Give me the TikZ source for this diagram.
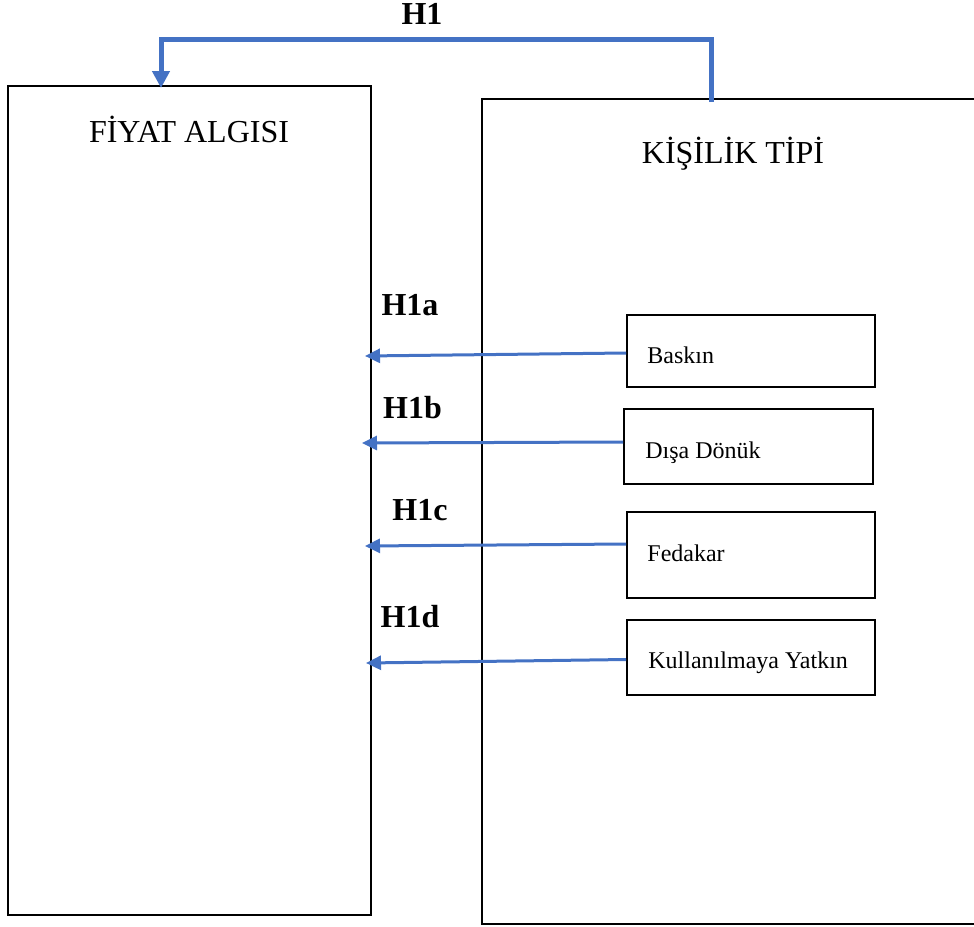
\documentclass[tikz,border=0pt]{standalone}
\usepackage{fontspec}
\setmainfont{Liberation Serif}
\usetikzlibrary{arrows.meta}

\definecolor{wordblue}{HTML}{4472C4}

\begin{document}
\begin{tikzpicture}[x=0.5pt, y=-0.5pt,
    mainbox/.style={draw, line width=1pt, inner sep=0pt},
    subbox/.style={draw, line width=1pt, inner sep=0pt},
    boxtitle/.style={anchor=base, inner sep=0pt, font=\fontsize{16}{19}\selectfont},
    subtext/.style={anchor=base west, inner sep=0pt, font=\fontsize{12}{14}\selectfont},
    hyplabel/.style={anchor=base, inner sep=0pt, font=\fontsize{16}{19}\selectfont\bfseries},
    hyparrow/.style={wordblue, line width=1.5pt, -{Triangle[length=7.5pt,width=7pt]}}]
    \clip (0,0) rectangle (974,926);

    % Main boxes
    \node[mainbox, minimum width=181.5pt, minimum height=414.5pt] (fiyat) at (189.5,500.5) {};
    \node[mainbox, minimum width=264pt, minimum height=412.5pt] (kisilik) at (746,511.5) {};
    \node[boxtitle] (fiyattitle) at (189,142) {FİYAT ALGISI};
    \node[boxtitle] (kisiliktitle) at (733,163) {KİŞİLİK TİPİ};

    % Personality types
    \node[subbox, minimum width=124pt, minimum height=36pt] (baskin) at (751,351) {};
    \node[subbox, minimum width=124.5pt, minimum height=37.5pt] (disa) at (748.5,446.5) {};
    \node[subbox, minimum width=124pt, minimum height=43pt] (fedakar) at (751,555) {};
    \node[subbox, minimum width=124pt, minimum height=37.5pt] (kullan) at (751,657.5) {};
    \node[subtext] (baskintext) at (647,363) {Baskın};
    \node[subtext] (disatext) at (645,458) {Dışa Dönük};
    \node[subtext] (fedakartext) at (647,561) {Fedakar};
    \node[subtext] (kullantext) at (648,668) {Kullanılmaya Yatkın};

    % Arrow ends
    \coordinate (tipa) at (365,356);
    \coordinate (tipb) at (362,443);
    \coordinate (tipc) at (365,546);
    \coordinate (tipd) at (366,663);
    \coordinate (h1start) at (711,102);
    \coordinate (h1end) at (161,88);

    % Hypotheses
    \draw[hyparrow] ([yshift=-1pt]baskin.west) -- (tipa);
    \draw[hyparrow] ([yshift=2.25pt]disa.west) -- (tipb);
    \draw[hyparrow] ([yshift=5.5pt]fedakar.west) -- (tipc);
    \draw[hyparrow] ([yshift=-1pt]kullan.west) -- (tipd);
    \draw[wordblue, line width=2.5pt, -{Triangle[length=8.5pt,width=8.5pt]}] (h1start) -- ++(0,-63) -| (h1end);

    % Labels
    \node[hyplabel] (h1) at (422,25) {H1};
    \node[hyplabel] (h1a) at (410,315) {H1a};
    \node[hyplabel] (h1b) at (412.5,418) {H1b};
    \node[hyplabel] (h1c) at (420,520) {H1c};
    \node[hyplabel] (h1d) at (410,627) {H1d};
\end{tikzpicture}
\end{document}
